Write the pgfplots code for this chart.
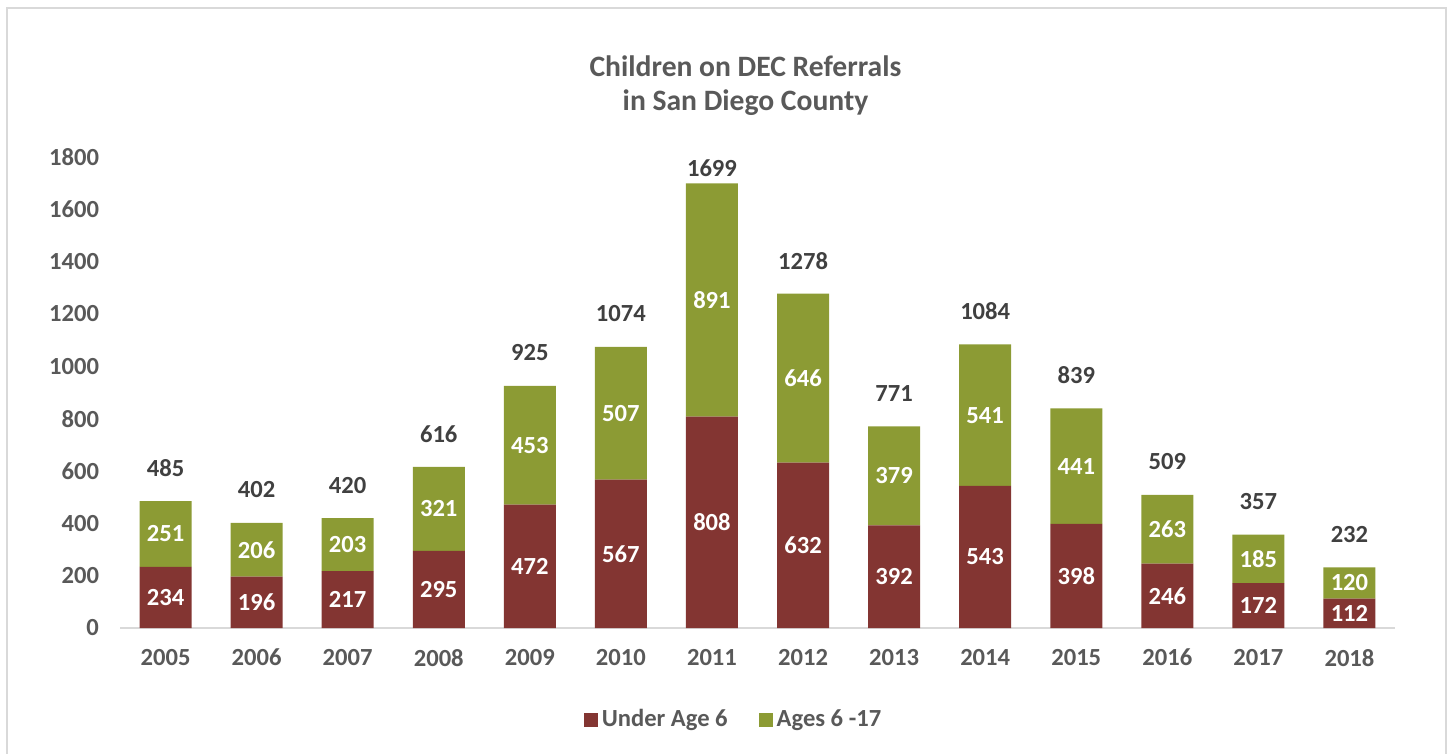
\documentclass[border=0pt]{standalone}
\usepackage{pgfplots}
\pgfplotsset{compat=1.18}
\usepackage{pgfplotstable}
\usepackage{fontspec}
\setmainfont{Carlito}
\definecolor{maroon}{HTML}{833532}
\definecolor{olive}{HTML}{8C9B34}
\definecolor{tickgray}{HTML}{595959}
\definecolor{totgray}{HTML}{404040}
\definecolor{framegray}{HTML}{D9D9D9}
\pgfplotstableread{
x year u a t
0 2005 234 251 485
1 2006 196 206 402
2 2007 217 203 420
3 2008 295 321 616
4 2009 472 453 925
5 2010 567 507 1074
6 2011 808 891 1699
7 2012 632 646 1278
8 2013 392 379 771
9 2014 543 541 1084
10 2015 398 441 839
11 2016 246 263 509
12 2017 172 185 357
13 2018 112 120 232
}\data
\newcommand{\lf}{\fontsize{12.3bp}{14bp}\selectfont\bfseries}
\begin{document}
\begin{tikzpicture}
\useasboundingbox (0,0) rectangle (726bp,-377bp);
\clip (0,0) rectangle (726bp,-377bp);
\draw[framegray, line width=1bp] (3.5bp,-4bp) rectangle (723bp,-390bp);
\node[align=center, text=tickgray, font=\fontsize{14.8bp}{17.3bp}\selectfont\bfseries] at (372.75bp,-42.8bp) {Children on DEC Referrals\\in San Diego County};
\begin{axis}[
  at={(60bp,-314bp)}, anchor=south west,
  scale only axis, width=637.5bp, height=235.5bp,
  xmin=-0.5, xmax=13.5, ymin=0, ymax=1800,
  ybar stacked, bar width=26bp,
  axis x line=bottom, axis y line=left,
  axis line style={-},
  x axis line style={draw=framegray, line width=1bp},
  y axis line style={draw=none},
  major tick length=0pt,
  xtick={0,...,13},
  xticklabels={2005,2006,2007,2008,2009,2010,2011,2012,2013,2014,2015,2016,2017,2018},
  ytick={0,200,...,1800},
  /pgf/number format/.cd, 1000 sep={}, assume math mode=true, /pgfplots/.cd,
  ticklabel style={text=tickgray, font=\lf},
  yticklabel style={xshift=-7bp},
  xticklabel style={yshift=-7bp},
  legend style={at={(0.482,-0.195)}, anchor=center, draw=none, fill=none,
    legend columns=2, font=\lf, text=tickgray,
    /tikz/every even column/.append style={column sep=13.5bp}},
  legend image code/.code={\path[#1] (0bp,-3.5bp) rectangle (7bp,3.5bp);},
]
\addplot[fill=maroon, draw=none] table[x=x, y=u] {\data};
\addlegendentry{Under Age 6}
\addplot[fill=olive, draw=none] table[x=x, y=a] {\data};
\addlegendentry{Ages 6 -17}
\end{axis}
\begin{axis}[
  at={(60bp,-314bp)}, anchor=south west,
  scale only axis, width=637.5bp, height=235.5bp,
  xmin=-0.5, xmax=13.5, ymin=0, ymax=1800,
  hide axis, clip=false,
  nodes near coords, point meta=explicit symbolic,
  every node near coord/.append style={anchor=center, font=\lf},
]
\addplot[draw=none, mark=none, every node near coord/.append style={text=white}] table[x=x, y expr=\thisrow{u}/2, meta=u] {\data};
\addplot[draw=none, mark=none, every node near coord/.append style={text=white}] table[x=x, y expr=\thisrow{u}+\thisrow{a}/2, meta=a] {\data};
\addplot[draw=none, mark=none, every node near coord/.append style={text=totgray}] table[x=x, y expr={min(\thisrow{t}+126,1758)}, meta=t] {\data};
\end{axis}
\end{tikzpicture}
\end{document}
